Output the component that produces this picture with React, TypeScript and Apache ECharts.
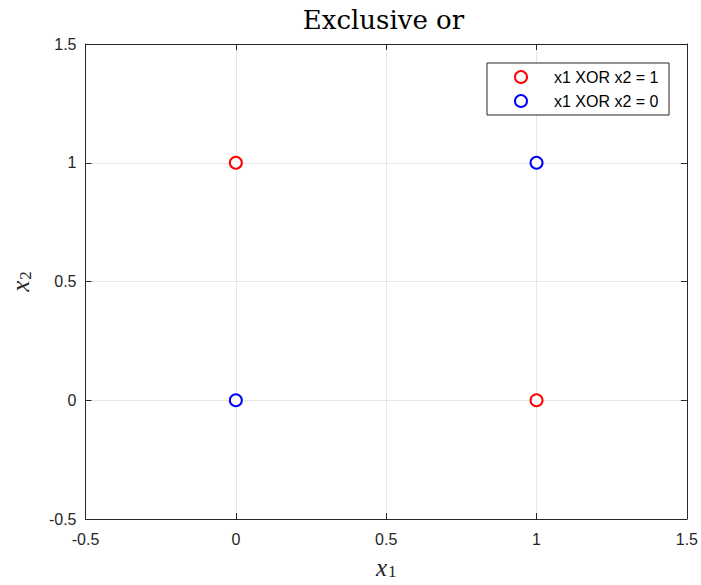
import React, { useEffect, useRef } from "react";
import * as echarts from "echarts";

const seriesNames = ["x1 XOR x2 = 1", "x1 XOR x2 = 0"];
const xorOne: number[][] = [
  [0, 1],
  [1, 0],
];
const xorZero: number[][] = [
  [0, 0],
  [1, 1],
];
const seriesColors = ["#ff0000", "#0000ff"];
const axisMin = -0.5;
const axisMax = 1.5;
const axisStep = 0.5;

const AXIS = "#262626";
const GRIDC = "#e6e6e6";
const SANS = "'Liberation Sans', Arial, Helvetica, sans-serif";
const SERIF = "'DejaVu Serif', 'Liberation Serif', serif";
const MATH = "'Liberation Serif', 'Times New Roman', serif";

export default function App() {
  const ref = useRef<HTMLDivElement>(null);
  useEffect(() => {
    if (!ref.current) return;
    const chart = echarts.init(ref.current, undefined, { renderer: "svg" });
    const baseAxis = (pos: string, main: boolean) => ({
      type: "value",
      position: pos,
      min: axisMin,
      max: axisMax,
      interval: axisStep,
      axisLine: { show: true, onZero: false, lineStyle: { color: AXIS, width: 1 } },
      axisTick: { show: true, inside: true, length: 6, lineStyle: { color: AXIS, width: 1 } },
      axisLabel: main
        ? { show: true, color: AXIS, fontSize: 16, fontFamily: SANS }
        : { show: false },
      splitLine: main ? { show: true, lineStyle: { color: GRIDC, width: 1 } } : { show: false },
    });
    const nameRich = {
      a: { fontFamily: MATH, fontStyle: "italic", fontSize: 25, color: AXIS },
      b: { fontFamily: MATH, fontSize: 17, color: AXIS, padding: [9, 0, 0, 1] },
    };
    const xMain: any = {
      ...baseAxis("bottom", true),
      name: "{a|x}{b|1}",
      nameLocation: "middle",
      nameGap: 35,
      nameTextStyle: { rich: nameRich },
    };
    xMain.axisLabel.margin = 12;
    const yMain: any = {
      ...baseAxis("left", true),
      name: "{a|x}{b|2}",
      nameLocation: "middle",
      nameGap: 52,
      nameRotate: 90,
      nameTextStyle: { rich: nameRich },
    };
    yMain.axisLabel.margin = 9;
    const option: any = {
      animation: false,
      backgroundColor: "#ffffff",
      grid: { left: 80, right: 14, top: 44, bottom: 60, containLabel: false },
      xAxis: [xMain, baseAxis("top", false)],
      yAxis: [yMain, baseAxis("right", false)],
      legend: {
        orient: "vertical",
        left: 487,
        top: 63,
        padding: [6, 7, 6, 27],
        itemGap: 8,
        itemWidth: 12,
        itemHeight: 12,
        z: 6,
        data: seriesNames,
        textStyle: { fontFamily: SANS, fontSize: 16, color: "#000000", padding: [0, 0, 0, 22] },
      },
      graphic: [
        {
          type: "text",
          x: 383.5,
          y: 20,
          z: 5,
          style: {
            text: "Exclusive or",
            fontFamily: SERIF,
            fontSize: 26,
            fill: "#000000",
            textAlign: "center",
            textVerticalAlign: "middle",
          },
        },
        {
          type: "rect",
          z: 5,
          shape: { x: 487, y: 63, width: 182, height: 52 },
          style: { fill: "#ffffff", stroke: AXIS, lineWidth: 1 },
        },
      ],
      series: [
        {
          name: seriesNames[0],
          type: "scatter",
          data: xorOne,
          symbol: "emptyCircle",
          symbolSize: 12,
          itemStyle: { color: seriesColors[0], borderColor: seriesColors[0], borderWidth: 1.2, opacity: 1 },
        },
        {
          name: seriesNames[1],
          type: "scatter",
          data: xorZero,
          symbol: "emptyCircle",
          symbolSize: 12,
          itemStyle: { color: seriesColors[1], borderColor: seriesColors[1], borderWidth: 1.2, opacity: 1 },
        },
      ],
    };
    chart.setOption(option);
    return () => chart.dispose();
  }, []);
  return (
    <div
      ref={ref}
      style={{ position: "fixed", left: 0, top: 0, width: 701, height: 585, background: "#fff" }}
    />
  );
}
